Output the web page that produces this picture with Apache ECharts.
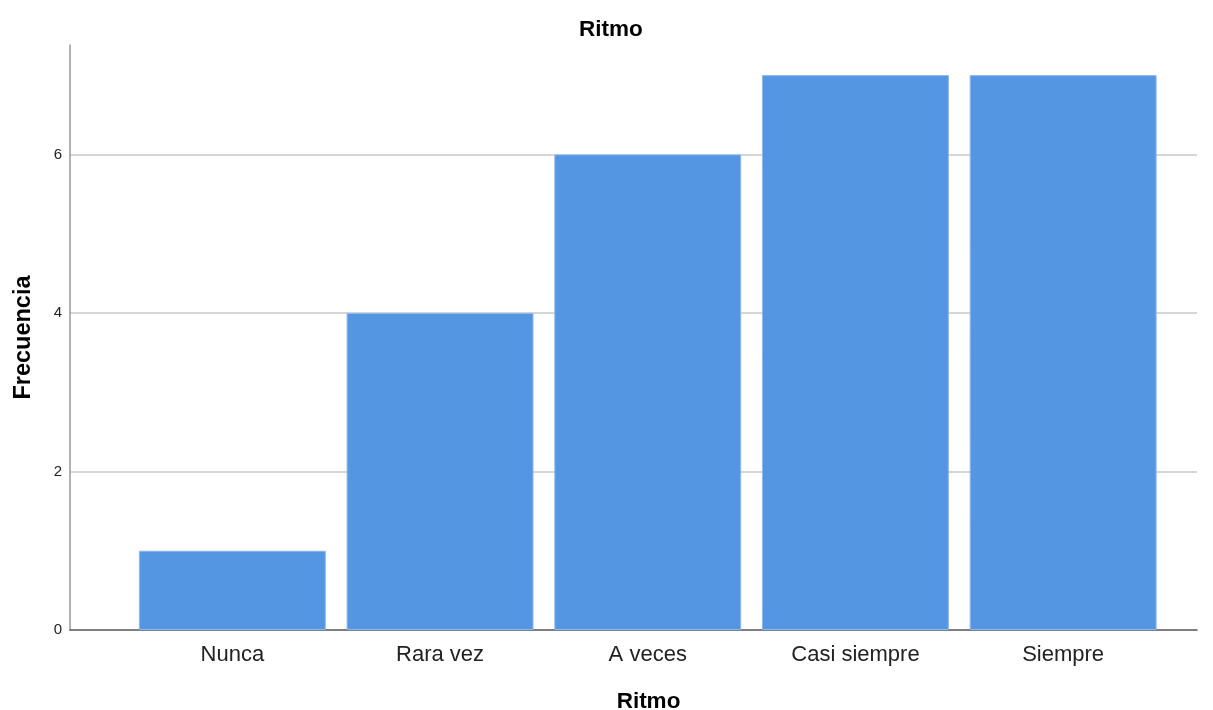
<!DOCTYPE html>
<html>
<head>
<meta charset="utf-8">
<script src="https://cdn.jsdelivr.net/npm/echarts@6/dist/echarts.min.js"></script>
<style>
html,body{margin:0;padding:0;background:#fff;}
#chart{width:1213px;height:710px;}
</style>
</head>
<body>
<div id="chart"></div>
<script>
const chartTitle = 'Ritmo';
const xAxisTitle = 'Ritmo';
const yAxisTitle = 'Frecuencia';
const categories = ['Nunca', 'Rara vez', 'A veces', 'Casi siempre', 'Siempre'];
const frequencies = [1, 4, 6, 7, 7];
const yMax = 7.38;
const yInterval = 2;

const font = "'Liberation Sans', Arial, sans-serif";
const chart = echarts.init(document.getElementById('chart'), null, {renderer: 'canvas'});
chart.setOption({
  backgroundColor: '#ffffff',
  animation: false,
  title: {
    text: chartTitle,
    left: 574,
    top: 13,
    textStyle: {fontFamily: font, fontSize: 22.5, fontWeight: 'bold', color: '#000'}
  },
  grid: [
    {left: 70, right: 16, top: 45, bottom: 80, containLabel: false, outerBoundsMode: 'none'},
    {left: 128.5, right: 46, top: 45, bottom: 80, containLabel: false, outerBoundsMode: 'none'}
  ],
  xAxis: [
    {
      gridIndex: 0, type: 'category', data: categories,
      axisLine: {show: true, lineStyle: {color: '#555555', width: 1.5}},
      axisTick: {show: false}, axisLabel: {show: false}, splitLine: {show: false},
      name: xAxisTitle, nameLocation: 'middle', nameGap: 60,
      nameTextStyle: {fontFamily: font, fontSize: 22.5, fontWeight: 'bold', color: '#000', padding: [0, 0, 0, 30]}
    },
    {
      gridIndex: 1, type: 'category', data: categories,
      axisLine: {show: false}, axisTick: {show: false},
      axisLabel: {fontFamily: font, fontSize: 22, color: '#222', margin: 14}
    }
  ],
  yAxis: [
    {
      gridIndex: 0, type: 'value', min: 0, max: yMax, interval: yInterval,
      axisLine: {show: true, lineStyle: {color: '#999999', width: 1.5}},
      axisTick: {show: false},
      axisLabel: {fontFamily: font, fontSize: 15, color: '#222', margin: 8, showMaxLabel: false,
        formatter: v => (v % yInterval === 0 ? String(v) : '')},
      splitLine: {show: true, showMinLine: false, showMaxLine: false, lineStyle: {color: '#c8c8c8', width: 1.5}},
      name: yAxisTitle, nameLocation: 'middle', nameGap: 34, nameRotate: 90,
      nameTextStyle: {fontFamily: font, fontSize: 23.5, fontWeight: 'bold', color: '#000'}
    },
    {
      gridIndex: 1, type: 'value', min: 0, max: yMax, interval: yInterval, show: false,
      splitLine: {show: false}
    }
  ],
  series: [{
    type: 'bar',
    xAxisIndex: 1, yAxisIndex: 1,
    data: frequencies,
    barCategoryGap: '10%',
    itemStyle: {color: '#5596e3', borderColor: '#8fb8ee', borderWidth: 1},
    z: 3
  }]
});
</script>
</body>
</html>
